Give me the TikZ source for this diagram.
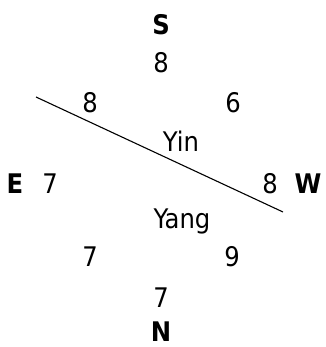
\documentclass[tikz,border=0pt]{standalone}
\usepackage{fontspec}
\setmainfont{DejaVu Sans Condensed}
\usetikzlibrary{positioning}

\begin{document}
\begin{tikzpicture}[
    x=1pt, y=-1pt,
    num/.style={inner sep=0pt, font=\fontsize{27}{27}\selectfont},
    dir/.style={inner sep=0pt, font=\fontsize{27}{27}\selectfont\bfseries},
    label/.style={inner sep=0pt, font=\fontsize{27}{27}\selectfont}
  ]
  \useasboundingbox (0,0) rectangle (325,347);
  % compass points
  \node[dir] (south) at (161,25) {S};
  \node[dir] (north) at (161,332) {N};
  \node[dir] (east) at (15,184) {E};
  \node[dir] (west) at (308,184) {W};
  % numbers
  \node[num] (top) at (161,63) {8};
  \node[num] (topleft) at (90,103) {8};
  \node[num] (topright) at (233,103) {6};
  \node[num] (left) at (50,184) {7};
  \node[num] (right) at (270,184) {8};
  \node[num] (botleft) at (90,257) {7};
  \node[num] (botright) at (232,257) {9};
  \node[num] (bottom) at (161,298) {7};
  % halves
  \node[label] (yin) at (181,141) {Yin};
  \node[label] (yang) at (182,221) {Yang};
  % dividing line
  \coordinate (cutA) at (36,97);
  \coordinate (cutB) at (283,212);
  \draw[line width=1.1pt] (cutA) -- (cutB);
\end{tikzpicture}
\end{document}
